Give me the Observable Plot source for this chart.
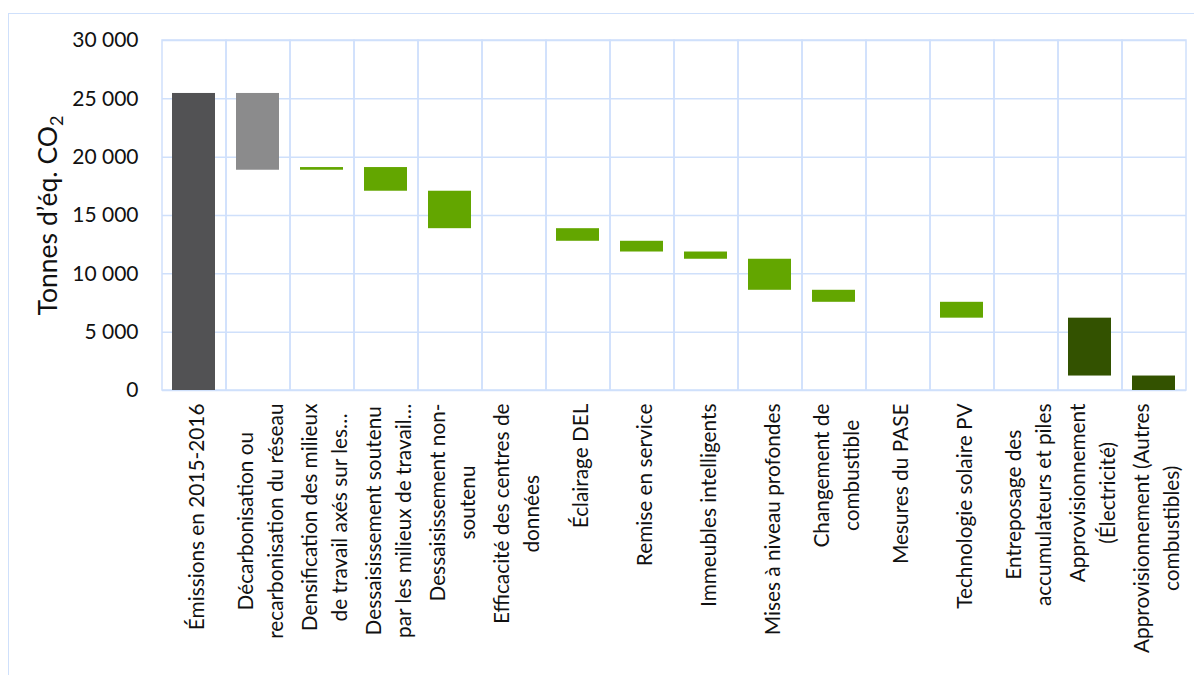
<!DOCTYPE html>
<html lang="fr">
<head>
<meta charset="utf-8">
<script src="https://cdn.jsdelivr.net/npm/d3@7"></script>
<script src="https://cdn.jsdelivr.net/npm/@observablehq/plot@0.6"></script>
<style>
  html, body { margin: 0; padding: 0; background: #fff; overflow: hidden; }
  #chart { position: relative; width: 1194px; height: 675px; }
  #chart .frame {
    position: absolute; left: 8px; top: 13px; width: 1300px; height: 800px;
    border-left: 1.5px solid #cfe0fb; border-top: 1.5px solid #cfe0fb; box-sizing: border-box;
  }
  #chart svg { position: absolute; left: 0; top: 0; }
</style>
</head>
<body>
<div id="chart"><div class="frame"></div></div>
<script>
// Waterfall of emission reductions (tonnes CO2e), from the 2015-2016 baseline.
const categories = [
  "Émissions en 2015-2016",
  "Décarbonisation ou recarbonisation du réseau",
  "Densification des milieux de travail axés sur les activités",
  "Dessaisissement soutenu par les milieux de travail axés sur les activités",
  "Dessaisissement non-soutenu",
  "Efficacité des centres de données",
  "Éclairage DEL",
  "Remise en service",
  "Immeubles intelligents",
  "Mises à niveau profondes",
  "Changement de combustible",
  "Mesures du PASE",
  "Technologie solaire PV",
  "Entreposage des accumulateurs et piles",
  "Approvisionnement (Électricité)",
  "Approvisionnement (Autres combustibles)"
];

// Axis labels as they are wrapped (and shortened) under each column
const tickLabels = [
  "Émissions en 2015-2016",
  "Décarbonisation ou\nrecarbonisation du réseau",
  "Densification des milieux\nde travail axés sur les…",
  "Dessaisissement soutenu\npar les milieux de travail…",
  "Dessaisissement non-\nsoutenu",
  "Efficacité des centres de\ndonnées",
  "Éclairage DEL",
  "Remise en service",
  "Immeubles intelligents",
  "Mises à niveau profondes",
  "Changement de\ncombustible",
  "Mesures du PASE",
  "Technologie solaire PV",
  "Entreposage des\naccumulateurs et piles",
  "Approvisionnement\n(Électricité)",
  "Approvisionnement (Autres\ncombustibles)"
];

// Start and end level of each floating bar (null = no bar)
const fromValues = [0, 25460, 18880, 19110, 17080, null, 13870, 12790, 11870, 11250, 8590, null, 7560, null, 6200, 1240];
const toValues   = [25460, 18880, 19110, 17080, 13870, null, 12790, 11870, 11250, 8590, 7560, null, 6200, null, 1240, 0];

const groups = [
  "Référence", "Réseau", "Mesure", "Mesure", "Mesure", "Mesure", "Mesure", "Mesure",
  "Mesure", "Mesure", "Mesure", "Mesure", "Mesure", "Mesure", "Approvisionnement", "Approvisionnement"
];
const groupNames = ["Référence", "Réseau", "Mesure", "Approvisionnement"];
const groupColors = ["#525254", "#8b8b8c", "#63a600", "#335200"];

const yTicks = [0, 5000, 10000, 15000, 20000, 25000, 30000];
const yTitle = "Tonnes d’éq. CO";
const yTitleSub = "2";

const rows = categories.map((category, i) => ({
  category,
  label: tickLabels[i],
  from: fromValues[i],
  to: toValues[i],
  group: groups[i]
}));
const bars = rows.filter(d => d.from != null && d.to != null);

const frLocale = d3.formatLocale({decimal: ",", thousands: "\u00a0", grouping: [3], currency: ["", "\u00a0€"]});
const fmt = frLocale.format(",");

const gridColor = "#cfe0fb";
const fontFamily = "Lato, 'Open Sans', sans-serif";
const labelSize = 20.8;
const labelLine = 30;
const labelGap = 13;

// Measure each wrapped label so its lines can be centred below the axis
const ctx = document.createElement("canvas").getContext("2d");
ctx.font = `${labelSize}px Lato`;
const labelMarks = rows.map(d => {
  const longest = d3.max(d.label.split("\n"), s => ctx.measureText(s).width);
  return Plot.text([d], {
    x: "category",
    text: "label",
    frameAnchor: "bottom",
    rotate: -90,
    textAnchor: "middle",
    lineAnchor: "middle",
    lineHeight: labelLine / labelSize,
    fontSize: labelSize,
    fill: "#111",
    dy: labelGap + longest / 2
  });
});

const chart = Plot.plot({
  width: 1194,
  height: 675,
  marginLeft: 162,
  marginRight: 8,
  marginTop: 40,
  marginBottom: 285,
  style: {fontFamily, background: "transparent", overflow: "visible"},
  x: {domain: categories, padding: 0, axis: null},
  y: {domain: [yTicks[0], yTicks[yTicks.length - 1]]},
  color: {domain: groupNames, range: groupColors},
  marks: [
    Plot.ruleY(yTicks, {stroke: gridColor, strokeWidth: 1.5}),
    Plot.barY(categories, {
      x: d => d,
      y1: yTicks[0],
      y2: yTicks[yTicks.length - 1],
      fill: "none",
      stroke: gridColor,
      strokeWidth: 1.5
    }),
    Plot.barY(bars, {x: "category", y1: "from", y2: "to", fill: "group", insetLeft: 10, insetRight: 11}),
    Plot.axisY({
      ticks: yTicks,
      tickFormat: fmt,
      tickSize: 0,
      tickPadding: 24,
      fontSize: 21,
      fill: "#111",
      label: null
    }),
    Plot.text([yTitle], {
      text: d => d,
      frameAnchor: "left",
      dx: -114,
      rotate: -90,
      textAnchor: "middle",
      lineAnchor: "middle",
      fontSize: 26.5,
      fill: "#111"
    }),
    ...labelMarks
  ]
});

document.getElementById("chart").appendChild(chart);

// Subscript "2" of CO2 in the axis title
d3.select(chart).selectAll("text")
  .filter(function () { return this.textContent === yTitle; })
  .append("tspan")
  .attr("dy", "0.35em")
  .attr("font-size", 18)
  .text(yTitleSub);
</script>
</body>
</html>
